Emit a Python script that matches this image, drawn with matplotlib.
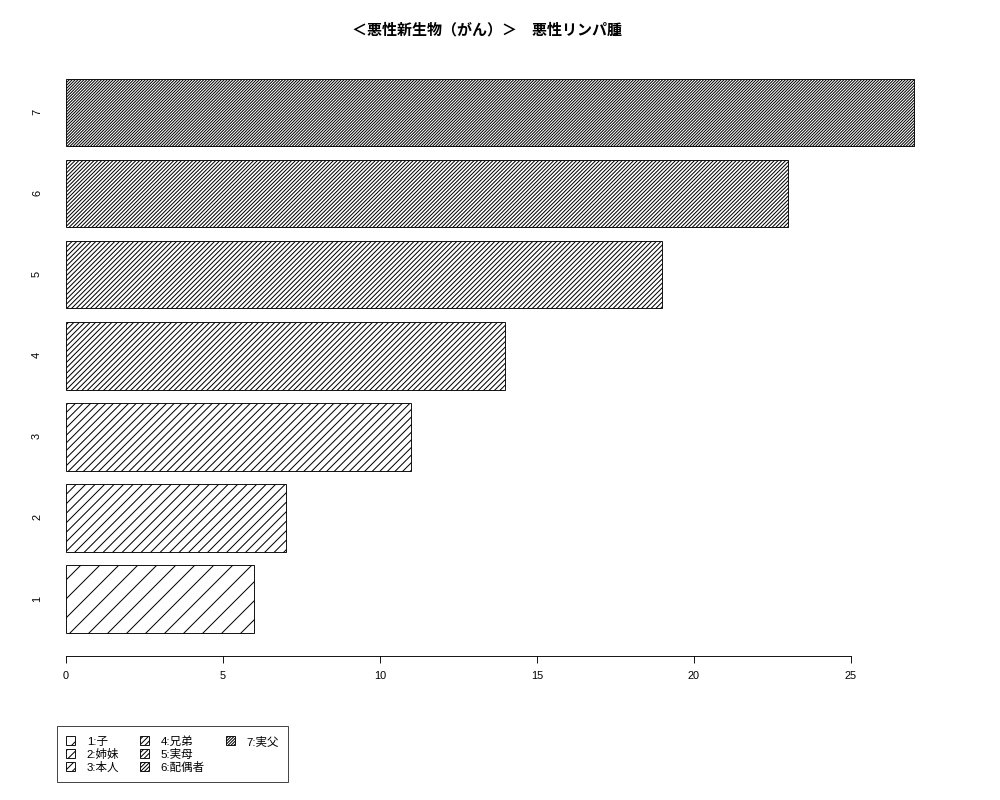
import matplotlib
matplotlib.use('Agg')
import matplotlib.pyplot as plt
from matplotlib.patches import Patch

DPI = 114


def pt(px):
    # pixel size -> points at this dpi
    return px * 72 / DPI


categories = ['1', '2', '3', '4', '5', '6', '7']
counts = [6, 7, 11, 14, 19, 23, 27]
legend_labels = ['1:子', '2:姉妹', '3:本人', '4:兄弟', '5:実母', '6:配偶者', '7:実父']
title = '＜悪性新生物（がん）＞　悪性リンパ腫'
xticks = [0, 5, 10, 15, 20, 25]

# hatch line density per bar (like R's density=)
hatch_reps = [2, 4, 5, 7, 8, 10, 13]

plt.rcParams['font.family'] = ['Liberation Sans', 'Noto Sans CJK JP', 'DejaVu Sans']
plt.rcParams['hatch.linewidth'] = pt(1.0)
plt.rcParams['hatch.color'] = 'black'

fig = plt.figure(figsize=(1000.5 / DPI, 800.5 / DPI), dpi=DPI)
ax = fig.add_axes([0.05, 0.18, 0.897, 0.75])

# R barplot spacing: width 1, space 0.2
pos = [0.7 + 1.2 * i for i in range(len(counts))]
bars = ax.barh(pos, counts, height=1.0, color='white', edgecolor='black', linewidth=pt(0.9))
for b, n in zip(bars, hatch_reps):
    b.set_hatch('/' * n)

ax.set_xlim(-0.51, 28.08)
ax.set_ylim(-0.14, 8.74)

for s in ['top', 'right', 'left']:
    ax.spines[s].set_visible(False)
ax.spines['bottom'].set_bounds(0, 25)
ax.spines['bottom'].set_linewidth(pt(0.9))

ax.set_xticks(xticks)
ax.set_xticklabels([str(t) for t in xticks])
ax.tick_params(axis='x', length=pt(7), width=pt(0.9), labelsize=pt(11), pad=pt(8))
ax.set_yticks(pos)
ax.set_yticklabels(categories, rotation=90)
ax.tick_params(axis='y', length=0, labelsize=pt(11), pad=pt(8))

fig.text(0.487, 1 - 29 / 800, title, ha='center', va='center', fontsize=pt(15),
         fontweight='bold', family=['Noto Sans CJK JP', 'DejaVu Sans'])

# two blank entries so the columns fill 3/3/1 like the original
handles = list(bars) + [Patch(visible=False), Patch(visible=False)]
labels = legend_labels + ['', '']
leg = ax.legend(handles, labels, ncol=3, loc='upper left',
                bbox_to_anchor=(0.057, 1 - 726 / 800), bbox_transform=fig.transFigure,
                fontsize=pt(11.5), frameon=True, fancybox=False, edgecolor='black',
                borderaxespad=0, handlelength=0.8, handleheight=0.8, handletextpad=1.0,
                columnspacing=1.8, labelspacing=0.2, borderpad=0.8)
leg.get_frame().set_linewidth(pt(0.9))

fig.savefig('out.png', dpi=DPI)
